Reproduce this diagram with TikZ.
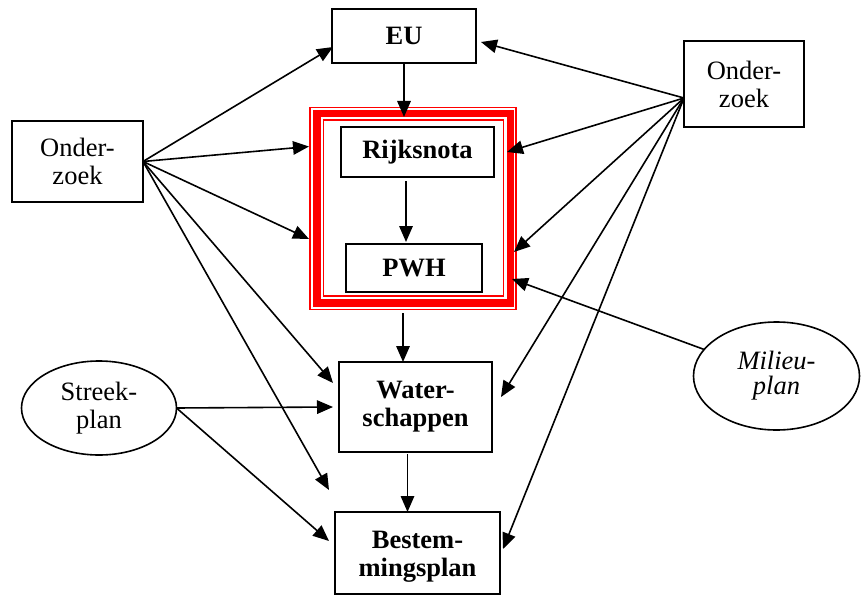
\documentclass[tikz,border=0pt]{standalone}
\usepackage{fontspec}
\setmainfont{Liberation Serif}
\usetikzlibrary{arrows.meta,calc,shapes.geometric}
\begin{document}
\begin{tikzpicture}[x=1pt,y=-1pt,
  txt/.style={font=\fontsize{26.5}{28}\selectfont, align=center, inner sep=0pt, outer sep=0pt},
  box/.style={txt, draw, line width=1.6pt, rectangle},
  boldbox/.style={box, font=\fontsize{26.5}{28}\selectfont\bfseries},
  oval/.style={txt, draw, line width=1.6pt, ellipse},
  arr/.style={line width=1.6pt, -{Triangle[length=16pt,width=13.5pt]}},
  redline/.style={draw=red, line width=1.6pt}]
\useasboundingbox (0,0) rectangle (861,596);

% sources of information
\node[box, minimum width=131pt, minimum height=81pt] (ol) at (77.5,161.5) {Onder-\\zoek};
\node[box, minimum width=120pt, minimum height=86pt] (or) at (744,84) {Onder-\\zoek};
\node[oval, minimum width=155pt, minimum height=94pt] (streek) at (99,408) {Streek-\\plan};
\node[oval, minimum width=166pt, minimum height=108pt,
      font=\fontsize{26.5}{25}\selectfont\itshape] (mil) at (776.5,376) {Milieu-\\plan};

% policy levels
\node[boldbox, minimum width=144pt, minimum height=54pt] (eu) at (404,36) {EU};
\node[rectangle, redline, outer sep=0pt, minimum width=206pt, minimum height=202pt] (frame) at (413,208.5) {};
\draw[red, line width=7.3pt] ($(frame.north west)+(7,6.2)$) rectangle ($(frame.south east)+(-5.7,-6.5)$);
\draw[redline] ($(frame.north west)+(13.3,12.5)$) rectangle ($(frame.south east)+(-12.7,-13.5)$);
\node[boldbox, minimum width=153pt, minimum height=50pt] (rijks) at (417.5,152) {Rijksnota};
\node[boldbox, minimum width=136pt, minimum height=48pt] (pwh) at (414,268) {PWH};
\node[boldbox, minimum width=153pt, minimum height=90pt] (water) at (415.5,407) {Water-\\schappen};
\node[boldbox, minimum width=165pt, minimum height=82pt] (best) at (417.5,553) {};
\node[txt, font=\fontsize{26.5}{28}\selectfont\bfseries] (besttext) at ($(best.center)+(0,4)$) {Bestem-\\mingsplan};

% hub points of the fan-out connectors
\coordinate (orhub) at ($(or.west)+(0,14)$);
\coordinate (bestgap) at ($(best.north west)+(-6,-22)$);

% left research
\draw[arr] (ol.east) -- ($(eu.west)+(1,11)$);
\draw[arr] (ol.east) -- ($(frame.west)+(-1,-62)$);
\draw[arr] (ol.east) -- ($(frame.west)+(-1,30.5)$);
\draw[arr] (ol.east) -- ($(water.west)+(-6,-24)$);
\draw[arr] (ol.east) -- (bestgap);

% regional plan
\draw[arr] (streek.east) -- ($(water.west)+(-6,0)$);
\draw[arr] (streek.east) -- ($(best.west)+(-6,-12)$);

% right research
\draw[arr] (orhub) -- ($(eu.east)+(5,6)$);
\draw[arr] (orhub) -- ($(frame.east)+(-9,-56.5)$);
\draw[arr] (orhub) -- ($(frame.east)+(-2,43.5)$);
\draw[arr] (orhub) -- ($(water.east)+(9,-10)$);
\draw[arr] (orhub) -- ($(best.east)+(3,-4)$);

% environmental plan
\draw[arr] (mil) -- ($(frame.east)+(-4,70.5)$);

% top-down chain
\draw[arr] (eu.south) -- ($(eu.south |- frame.north)+(0,9.5)$);
\draw[arr] ($(rijks.south)+(-11.5,4)$) -- ($(pwh.north)+(-8,-2)$);
\draw[arr] ($(frame.south)+(-10,3.5)$) -- ($(water.north)+(-12.5,0)$);
\draw[arr] ($(water.south)+(-8,2)$) -- ($(best.north)+(-10,0)$);
\end{tikzpicture}
\end{document}
